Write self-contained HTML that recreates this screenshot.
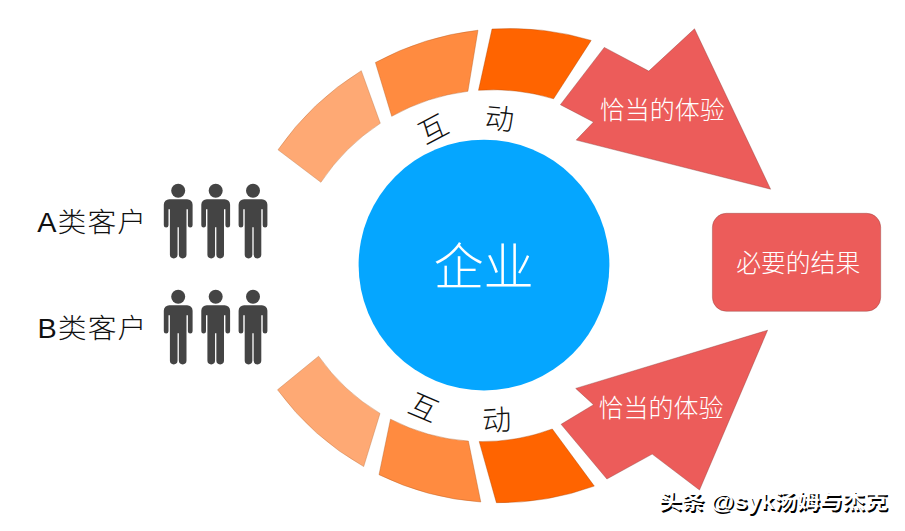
<!DOCTYPE html>
<html lang="zh-CN">
<head>
<meta charset="utf-8">
<title>企业互动</title>
<style>
html,body{margin:0;padding:0;background:#fff;}
body{width:905px;height:531px;overflow:hidden;position:relative;font-family:"Liberation Sans","Noto Sans CJK SC",sans-serif;}
svg{position:absolute;left:0;top:0;display:block;}
.t{font-family:"Liberation Sans","Noto Sans CJK SC",sans-serif;font-weight:300;}
</style>
</head>
<body>
<svg width="905" height="531" viewBox="0 0 905 531">
  <!-- top ring segments -->
  <path stroke="#b8703f" stroke-opacity=".55" stroke-width=".7" fill="#fea974" d="M278.0 149.8A281.9 281.9 0 0 1 361.3 70.7L380.3 123.3A206.5 206.5 0 0 0 320.9 182.3Z"/>
  <path stroke="#b05a20" stroke-opacity=".55" stroke-width=".7" fill="#ff8b40" d="M375.4 62.5A281.9 281.9 0 0 1 478.0 30.2L467.9 91.3A206.5 206.5 0 0 0 391.7 116.3Z"/>
  <path stroke="#a84200" stroke-opacity=".55" stroke-width=".7" fill="#ff6400" d="M492.0 29.0A281.9 281.9 0 0 1 591.2 40.4L553.6 98.8A206.5 206.5 0 0 0 478.5 90.3Z"/>
  <!-- bottom ring segments -->
  <path stroke="#b8703f" stroke-opacity=".55" stroke-width=".7" fill="#fea974" d="M277.5 389.8A276.0 276.0 0 0 0 363.7 466.6L380.0 413.4A199.8 199.8 0 0 1 318.6 356.2Z"/>
  <path stroke="#b05a20" stroke-opacity=".55" stroke-width=".7" fill="#ff8b40" d="M379.0 474.7A276.0 276.0 0 0 0 480.8 502.0L468.4 441.1A199.8 199.8 0 0 1 390.5 419.2Z"/>
  <path stroke="#a84200" stroke-opacity=".55" stroke-width=".7" fill="#ff6400" d="M496.4 502.7A276.0 276.0 0 0 0 594.3 486.1L552.3 429.0A199.8 199.8 0 0 1 479.2 441.6Z"/>
  <!-- arrows -->
  <path stroke="#8a3a38" stroke-opacity=".55" stroke-width=".7" fill="#ec5c5a" d="M604.3 47.4L648.8 71.1L694.5 28.8L770.6 189.2L576.2 140.1L593.5 122L560.4 104.7Z"/>
  <path stroke="#8a3a38" stroke-opacity=".55" stroke-width=".7" fill="#ec5c5a" d="M767.6 330.2L575.7 388.4L593.5 404.7L561.1 424.3L606.9 479L652.2 454.1L699.5 490Z"/>
  <!-- result box -->
  <rect x="712.4" y="213.3" width="168.3" height="98" rx="14" ry="14" stroke="#8a3a38" stroke-opacity=".55" stroke-width=".7" fill="#ec5c5a"/>
  <!-- center circle -->
  <circle cx="484" cy="265.1" r="125.4" fill="#05a6ff"/>
  <!-- people -->
  <g fill="#444" transform="translate(178.2 190.7)"><circle cx="0" cy="0" r="7"/>
      <path d="M-8.9 8.5h17.8a5.5 5.5 0 0 1 5.5 5.5v20.5a2.35 2.35 0 0 1-4.7 0v-16h-1.4v45.4a3.825 3.825 0 0 1-7.65 0v-27.3h-1.3v27.3a3.825 3.825 0 0 1-7.65 0v-45.4h-1.4v16a2.35 2.35 0 0 1-4.7 0v-20.5a5.5 5.5 0 0 1 5.5-5.5z"/></g>
  <g fill="#444" transform="translate(215.7 190.7)"><circle cx="0" cy="0" r="7"/>
      <path d="M-8.9 8.5h17.8a5.5 5.5 0 0 1 5.5 5.5v20.5a2.35 2.35 0 0 1-4.7 0v-16h-1.4v45.4a3.825 3.825 0 0 1-7.65 0v-27.3h-1.3v27.3a3.825 3.825 0 0 1-7.65 0v-45.4h-1.4v16a2.35 2.35 0 0 1-4.7 0v-20.5a5.5 5.5 0 0 1 5.5-5.5z"/></g>
  <g fill="#444" transform="translate(253 190.7)"><circle cx="0" cy="0" r="7"/>
      <path d="M-8.9 8.5h17.8a5.5 5.5 0 0 1 5.5 5.5v20.5a2.35 2.35 0 0 1-4.7 0v-16h-1.4v45.4a3.825 3.825 0 0 1-7.65 0v-27.3h-1.3v27.3a3.825 3.825 0 0 1-7.65 0v-45.4h-1.4v16a2.35 2.35 0 0 1-4.7 0v-20.5a5.5 5.5 0 0 1 5.5-5.5z"/></g>
  <g fill="#444" transform="translate(178.2 296.7)"><circle cx="0" cy="0" r="7"/>
      <path d="M-8.9 8.5h17.8a5.5 5.5 0 0 1 5.5 5.5v20.5a2.35 2.35 0 0 1-4.7 0v-16h-1.4v45.4a3.825 3.825 0 0 1-7.65 0v-27.3h-1.3v27.3a3.825 3.825 0 0 1-7.65 0v-45.4h-1.4v16a2.35 2.35 0 0 1-4.7 0v-20.5a5.5 5.5 0 0 1 5.5-5.5z"/></g>
  <g fill="#444" transform="translate(215.7 296.7)"><circle cx="0" cy="0" r="7"/>
      <path d="M-8.9 8.5h17.8a5.5 5.5 0 0 1 5.5 5.5v20.5a2.35 2.35 0 0 1-4.7 0v-16h-1.4v45.4a3.825 3.825 0 0 1-7.65 0v-27.3h-1.3v27.3a3.825 3.825 0 0 1-7.65 0v-45.4h-1.4v16a2.35 2.35 0 0 1-4.7 0v-20.5a5.5 5.5 0 0 1 5.5-5.5z"/></g>
  <g fill="#444" transform="translate(253 296.7)"><circle cx="0" cy="0" r="7"/>
      <path d="M-8.9 8.5h17.8a5.5 5.5 0 0 1 5.5 5.5v20.5a2.35 2.35 0 0 1-4.7 0v-16h-1.4v45.4a3.825 3.825 0 0 1-7.65 0v-27.3h-1.3v27.3a3.825 3.825 0 0 1-7.65 0v-45.4h-1.4v16a2.35 2.35 0 0 1-4.7 0v-20.5a5.5 5.5 0 0 1 5.5-5.5z"/></g>
  <!-- labels -->
  <text class="t" transform="translate(37.3 232.3) scale(1.045 1)" font-size="27.6" letter-spacing="1" fill="#111">A类客户</text>
  <text class="t" transform="translate(37.5 338.3) scale(1.045 1)" font-size="27.6" letter-spacing="1" fill="#111">B类客户</text>
  <text class="t" x="483.6" y="284.9" font-size="50.2" fill="#fff" text-anchor="middle">企业</text>
  <text class="t" x="662.3" y="119.2" font-size="25" fill="#fff" text-anchor="middle">恰当的体验</text>
  <text class="t" x="661" y="416.7" font-size="25" fill="#fff" text-anchor="middle">恰当的体验</text>
  <text class="t" x="798.2" y="272.3" font-size="24.8" fill="#fff" text-anchor="middle">必要的结果</text>
  <!-- curved text -->
  <text class="t" font-size="29" fill="#111" text-anchor="middle" transform="translate(433 129) rotate(-28)" y="10.5">互</text>
  <text class="t" font-size="29" fill="#111" text-anchor="middle" transform="translate(499.5 118.5) rotate(6)" y="10.5">动</text>
  <text class="t" font-size="29" fill="#111" text-anchor="middle" transform="translate(423.7 407.6) rotate(23)" y="10.5">互</text>
  <text class="t" font-size="29" fill="#111" text-anchor="middle" transform="translate(496.7 420.1) rotate(-4)" y="10.5">动</text>
</svg>
<div style="position:absolute;left:659px;top:487.8px;font-size:22.4px;line-height:30px;font-weight:bold;color:#fff;white-space:nowrap;text-shadow:1.4px 1.4px 0.6px #000;transform-origin:0 0;transform:scale(1.016,0.93);font-family:'Liberation Sans','Noto Sans CJK SC',sans-serif;">头条 <span style="font-size:23.6px">@syk</span>汤姆与杰克</div>
</body>
</html>
